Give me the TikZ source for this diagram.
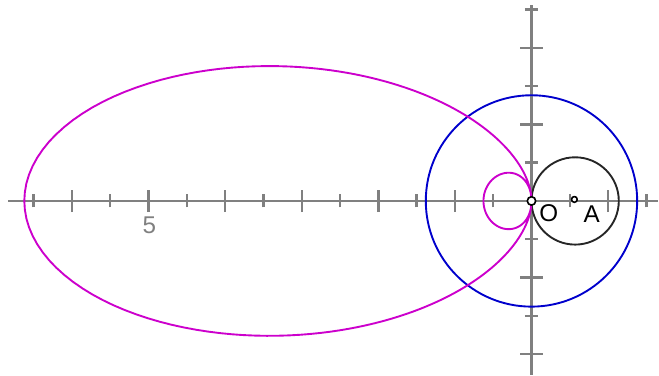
\documentclass[tikz,border=0pt]{standalone}
\usepackage{fontspec}
\setmainfont{Liberation Sans}
\usepackage{xcolor}
\usepackage{tikz}
\usetikzlibrary{calc}

\definecolor{locusmag}{RGB}{204,0,204}
\definecolor{circblue}{RGB}{0,0,204}
\definecolor{axisgray}{RGB}{128,128,128}

\begin{document}
\begin{tikzpicture}[>=latex, line join=round,
    axe/.style={axisgray, line width=0.9pt},
    curve/.style={line width=0.7pt},
    pt/.style={circle, draw=black, fill=white, line width=0.6pt, inner sep=0pt},
    lbl/.style={inner sep=0pt, font=\fontsize{9}{10}\selectfont}]
    \useasboundingbox (-6.94,-2.285) rectangle (1.665,2.624);

    % 1. Hệ trục tọa độ màu xám
    \draw[axe] (-6.83,0) -- (1.65,0);
    \draw[axe] (0,-2.27) -- (0,2.56);
    % vạch chia nhỏ (0.5) và vạch chia lớn (1)
    \foreach \t in {-6.5,-5.5,...,1.5} \draw[axe] (\t,-0.085) -- (\t,0.085);
    \foreach \t in {-6,-5,-4,-3,-2,-1,1} \draw[axe] (\t,-0.145) -- (\t,0.145);
    \foreach \t in {-1.5,-0.5,0.5,1.5,2.5} \draw[axe] (-0.085,\t) -- (0.085,\t);
    \foreach \t in {-2,-1,1,2} \draw[axe] (-0.145,\t) -- (0.145,\t);
    \node[lbl, axisgray] (five) at (-4.99,-0.324) {5};

    % 2. Đường tròn tâm O (xanh) và đường tròn tâm A (đen)
    \draw[curve, circblue] (0,0) circle (1.38);
    \draw[curve, black!85] (0.57,0) circle (0.57);

    % 3. Quỹ tích màu tím: r = cos t / (0.722 cos t - 0.873)
    \draw[curve, locusmag, samples=721, domain=0:360, variable=\t]
      plot ({cos(\t)*cos(\t)/(0.722*cos(\t)-0.873)}, {cos(\t)*sin(\t)/(0.722*cos(\t)-0.873)});

    % 4. Các điểm O, A
    \node[pt, minimum size=0.11cm] (O) at (0,0) {};
    \node[pt, minimum size=0.075cm] (A) at (0.56,0.02) {};
    \node[lbl] (labO) at (0.226,-0.161) {O};
    \node[lbl] (labA) at (0.786,-0.179) {A};

\end{tikzpicture}
\end{document}
